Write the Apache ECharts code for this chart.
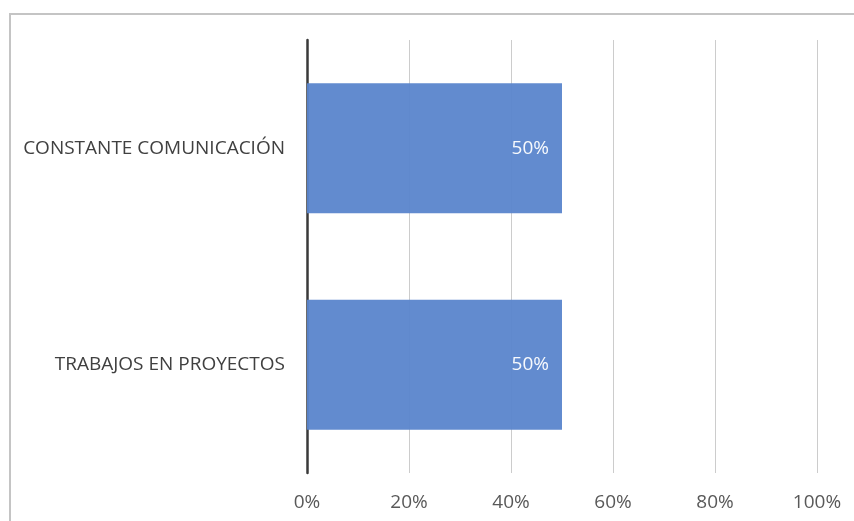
<!DOCTYPE html>
<html>
<head>
<meta charset="utf-8">
<script src="https://cdn.jsdelivr.net/npm/echarts@6/dist/echarts.min.js"></script>
<style>
  html, body { margin: 0; padding: 0; background: #fff; }
  #chart { width: 854px; height: 521px; }
</style>
</head>
<body>
<div id="chart"></div>
<script>
// Categories listed bottom-to-top for the horizontal bar layout
const categories = ['TRABAJOS EN PROYECTOS', 'CONSTANTE COMUNICACIÓN'];
const values = [50, 50];
const axisMax = 100;
const axisStep = 20;

const chart = echarts.init(document.getElementById('chart'), null, { renderer: 'canvas' });
chart.setOption({
  animation: false,
  backgroundColor: '#ffffff',
  textStyle: { fontFamily: 'Open Sans, Noto Sans, sans-serif' },
  graphic: [{
    type: 'rect',
    shape: { x: 10, y: 14, width: 900, height: 600 },
    style: { fill: 'none', stroke: '#c4c4c4', lineWidth: 2 },
    silent: true,
    z: -1
  }],
  grid: { left: 307, right: 37, top: 40, bottom: 48, containLabel: false },
  xAxis: {
    type: 'value',
    min: 0,
    max: axisMax,
    interval: axisStep,
    axisLine: { show: false },
    axisTick: { show: false },
    splitLine: { show: true, lineStyle: { color: '#cccccc', width: 1 } },
    axisLabel: {
      formatter: '{value}%',
      color: '#595959',
      fontSize: 19,
      margin: 20
    }
  },
  yAxis: {
    type: 'category',
    data: categories,
    axisLine: { show: true, lineStyle: { color: '#3a3a3a', width: 2.5 } },
    axisTick: { show: false },
    axisLabel: { color: '#404040', fontSize: 19, margin: 22 }
  },
  series: [{
    type: 'bar',
    data: values,
    barCategoryGap: '40%',
    itemStyle: { color: '#5a85cc', opacity: 0.95 },
    label: {
      show: true,
      position: 'insideRight',
      distance: 13,
      formatter: '{c}%',
      color: '#ffffff',
      fontSize: 19,
      fontWeight: 500
    }
  }]
});
</script>
</body>
</html>
